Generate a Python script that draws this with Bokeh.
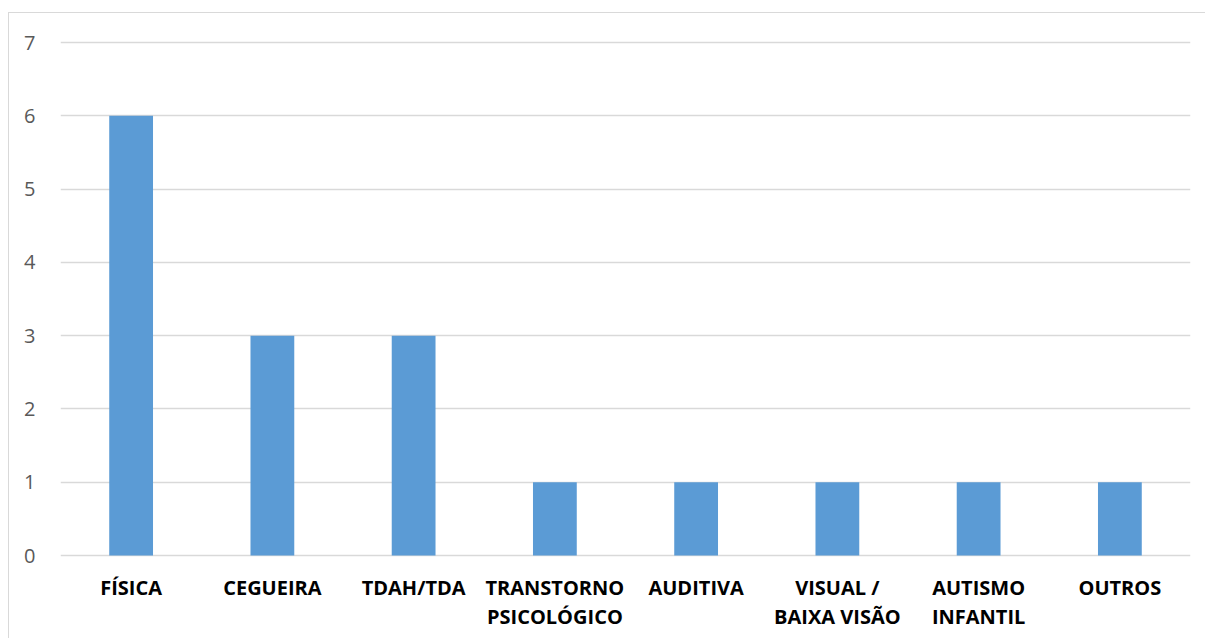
from bokeh.plotting import figure
from bokeh.models import FactorRange, Range1d, FixedTicker, ColumnDataSource
from bokeh.core.properties import value
from bokeh.embed import file_html
from bokeh.resources import INLINE

# Deficiency categories and counts
categories = ["FÍSICA", "CEGUEIRA", "TDAH/TDA", "TRANSTORNO PSICOLÓGICO",
              "AUDITIVA", "VISUAL / BAIXA VISÃO", "AUTISMO INFANTIL", "OUTROS"]
counts = [6, 3, 3, 1, 1, 1, 1, 1]
tick_labels = ["FÍSICA", "CEGUEIRA", "TDAH/TDA", "TRANSTORNO\nPSICOLÓGICO",
               "AUDITIVA", "VISUAL /\nBAIXA VISÃO", "AUTISMO\nINFANTIL", "OUTROS"]
y_ticks = [0, 1, 2, 3, 4, 5, 6, 7]

FONT = "Open Sans"
BAR = "#5B9BD5"
GRID = "#D9D9D9"

# canvas geometry (pixels): plot area spans y=0..7 over PLOT_H pixels,
# with some room above and the category labels below
PLOT_H = 513
TOP_PAD = 4
BOTTOM_PAD = 84
unit = PLOT_H / 7.0

p = figure(
    x_range=FactorRange(*categories, range_padding=0),
    y_range=Range1d(-BOTTOM_PAD / unit, 7 + TOP_PAD / unit),
    width=1197, height=626,
    output_backend="svg", toolbar_location=None,
    min_border_left=51, min_border_right=16,
    min_border_top=25, min_border_bottom=0,
    margin=(12, 0, 0, 8),
    styles={"border-top": "1px solid #D9D9D9",
            "border-left": "1px solid #D9D9D9"},
)

source = ColumnDataSource(data=dict(cat=categories, n=counts))
p.vbar(x="cat", top="n", width=0.31, source=source,
       fill_color=BAR, line_color=None)

# frame and grid
p.outline_line_color = None
p.background_fill_color = "white"
p.border_fill_color = "white"
p.xgrid.grid_line_color = None
p.ygrid.grid_line_color = GRID
p.ygrid.grid_line_width = 1.5
p.xaxis.visible = False

# y axis
p.yaxis.ticker = FixedTicker(ticks=y_ticks)
p.ygrid.ticker = FixedTicker(ticks=y_ticks)
p.yaxis.axis_line_color = None
p.yaxis.major_tick_line_color = None
p.yaxis.minor_tick_line_color = None
p.yaxis.major_label_text_font = FONT
p.yaxis.major_label_text_font_size = "20px"
p.yaxis.major_label_text_color = "#595959"
p.yaxis.major_label_standoff = 19

# category names, one row per text line, below the baseline
line_px = [32, 61]
lx, ly, lt = [], [], []
for cat, text in zip(categories, tick_labels):
    for j, line in enumerate(text.split("\n")):
        lx.append(cat)
        ly.append(-line_px[j] / unit)
        lt.append(line)
labels = ColumnDataSource(data=dict(x=lx, y=ly, text=lt))
p.text(x="x", y="y", text="text", source=labels,
       text_font=value(FONT), text_font_style="bold", text_font_size="20px",
       text_color="#000000", text_align="center", text_baseline="middle")

open("out.html", "w").write(file_html(p, INLINE))
